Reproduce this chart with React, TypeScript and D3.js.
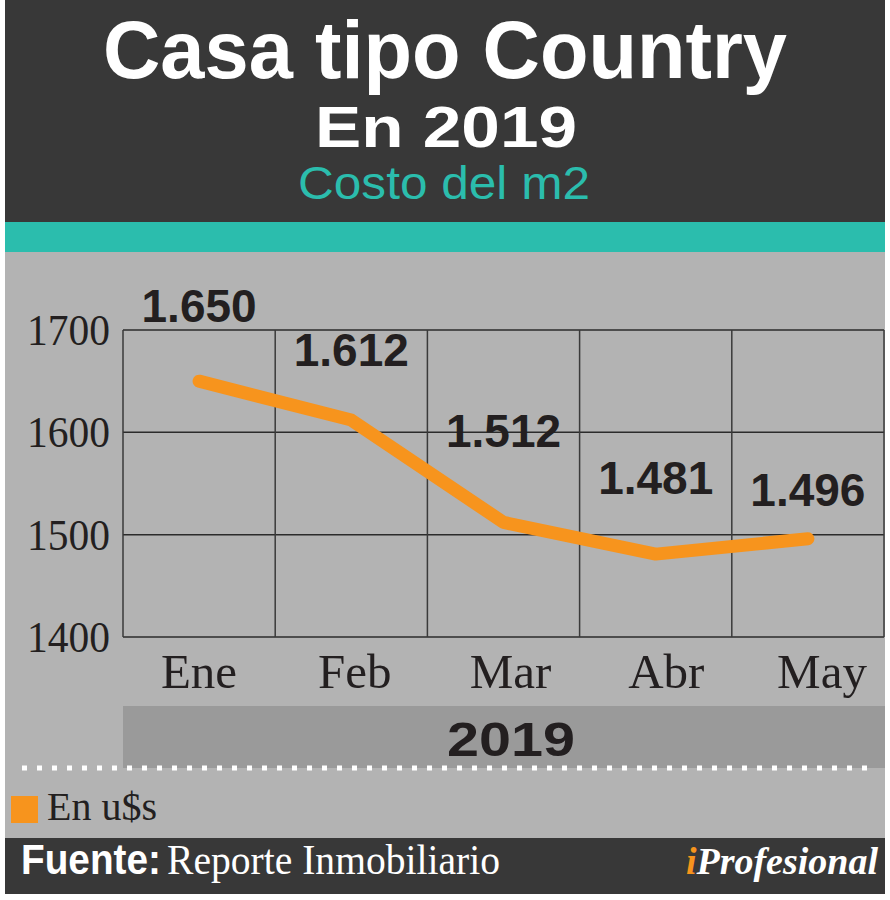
import React, { useEffect, useRef } from 'react';
import * as d3 from 'd3';

const months = ['Ene', 'Feb', 'Mar', 'Abr', 'May'];
const costs = [1650, 1612, 1512, 1481, 1496];
const costLabels = ['1.650', '1.612', '1.512', '1.481', '1.496'];
const yTicks = [1400, 1500, 1600, 1700];

// how far above each point its label sits (matches the original layout)
const labelLift = [59, 54, 75, 60, 33];

const W = 890;
const H = 900;

export default function App() {
  const svgRef = useRef<SVGSVGElement>(null);

  useEffect(() => {
    if (!svgRef.current) return;
    const svg = d3.select(svgRef.current);
    svg.selectAll('*').remove();

    const left = 123, right = 884, top = 330, bottom = 637;
    const sans = "'Liberation Sans', Arial, sans-serif";
    const serif = "'Liberation Serif', 'Times New Roman', serif";

    const x = d3.scaleBand<string>().domain(months).range([left, right]).padding(0);
    const y = d3.scaleLinear().domain([1400, 1700]).range([bottom, top]);
    // month names in the original drift a little right of the band centres
    const xLabel = d3.scalePoint<string>().domain(months).range([199, 822]);

    // panels
    svg.append('rect').attr('x', 0).attr('y', 0).attr('width', W).attr('height', H).attr('fill', '#fff');
    svg.append('rect').attr('x', 5).attr('y', 0).attr('width', 880).attr('height', 222).attr('fill', '#383838');
    svg.append('rect').attr('x', 5).attr('y', 222).attr('width', 880).attr('height', 30).attr('fill', '#2bbdad');
    svg.append('rect').attr('x', 5).attr('y', 252).attr('width', 880).attr('height', 586).attr('fill', '#b3b3b3');
    svg.append('rect').attr('x', 5).attr('y', 838).attr('width', 880).attr('height', 56).attr('fill', '#383838');

    // titles (the original type is a little wider than Arial, hence textLength)
    svg.append('text').attr('x', 445).attr('y', 78).attr('text-anchor', 'middle')
      .attr('font-family', sans).attr('font-weight', 'bold').attr('font-size', 81)
      .attr('textLength', 684).attr('lengthAdjust', 'spacingAndGlyphs')
      .attr('fill', '#fff').text('Casa tipo Country');
    svg.append('text').attr('x', 446).attr('y', 147).attr('text-anchor', 'middle')
      .attr('font-family', sans).attr('font-weight', 'bold').attr('font-size', 57)
      .attr('textLength', 262).attr('lengthAdjust', 'spacingAndGlyphs')
      .attr('fill', '#fff').text('En 2019');
    svg.append('text').attr('x', 444).attr('y', 199).attr('text-anchor', 'middle')
      .attr('font-family', sans).attr('font-size', 46)
      .attr('textLength', 292).attr('lengthAdjust', 'spacingAndGlyphs')
      .attr('fill', '#2bbdad').text('Costo del m2');

    // grid
    const g = svg.append('g');
    g.selectAll('line.h').data(yTicks).join('line')
      .attr('x1', left).attr('x2', right)
      .attr('y1', d => y(d)).attr('y2', d => y(d))
      .attr('stroke', '#2b2b2b').attr('stroke-width', 1.5);
    const edges = months.map(m => x(m)!).concat([right]);
    g.selectAll('line.v').data(edges).join('line')
      .attr('x1', d => d).attr('x2', d => d)
      .attr('y1', top).attr('y2', bottom)
      .attr('stroke', '#3a3a3a').attr('stroke-width', 1.5);

    // y tick labels
    svg.selectAll('text.yt').data(yTicks).join('text')
      .attr('x', 110).attr('y', d => y(d) + 15).attr('text-anchor', 'end')
      .attr('font-family', serif).attr('font-size', 44).attr('fill', '#231f20')
      .attr('textLength', 83).attr('lengthAdjust', 'spacingAndGlyphs')
      .text(d => d);

    // month labels
    svg.selectAll('text.xt').data(months).join('text')
      .attr('x', d => xLabel(d)!).attr('y', 688).attr('text-anchor', 'middle')
      .attr('font-family', serif).attr('font-size', 49).attr('fill', '#231f20')
      .text(d => d);

    // year band
    svg.append('rect').attr('x', left).attr('y', 706).attr('width', 885 - left).attr('height', 62).attr('fill', '#9a9a9a');
    svg.append('text').attr('x', 511).attr('y', 756).attr('text-anchor', 'middle')
      .attr('font-family', sans).attr('font-weight', 'bold').attr('font-size', 49)
      .attr('textLength', 128).attr('lengthAdjust', 'spacingAndGlyphs')
      .attr('fill', '#231f20').text('2019');

    // dotted separator
    svg.append('line').attr('x1', 22).attr('x2', 868).attr('y1', 768).attr('y2', 768)
      .attr('stroke', '#fff').attr('stroke-width', 5).attr('stroke-dasharray', '5 10');

    // line
    const line = d3.line<number>()
      .x((_, i) => x(months[i])! + x.bandwidth() / 2)
      .y(d => y(d));
    svg.append('path').datum(costs)
      .attr('fill', 'none').attr('stroke', '#f7941d').attr('stroke-width', 13)
      .attr('stroke-linecap', 'round').attr('stroke-linejoin', 'round')
      .attr('d', line);

    // value labels
    svg.selectAll('text.val').data(costs).join('text')
      .attr('x', (_, i) => x(months[i])! + x.bandwidth() / 2)
      .attr('y', (d, i) => y(d) - labelLift[i])
      .attr('text-anchor', 'middle')
      .attr('font-family', sans).attr('font-weight', 'bold').attr('font-size', 46)
      .attr('fill', '#231f20')
      .text((_, i) => costLabels[i]);

    // legend
    svg.append('rect').attr('x', 11).attr('y', 796).attr('width', 27).attr('height', 27).attr('fill', '#f7941d');
    svg.append('text').attr('x', 47).attr('y', 820)
      .attr('font-family', serif).attr('font-size', 41).attr('fill', '#231f20')
      .attr('textLength', 110).attr('lengthAdjust', 'spacingAndGlyphs')
      .text('En u$s');

    // footer
    svg.append('text').attr('x', 21).attr('y', 874)
      .attr('font-family', sans).attr('font-weight', 'bold').attr('font-size', 42)
      .attr('textLength', 140).attr('lengthAdjust', 'spacingAndGlyphs')
      .attr('fill', '#fff').text('Fuente:');
    svg.append('text').attr('x', 167).attr('y', 874)
      .attr('font-family', serif).attr('font-size', 43)
      .attr('textLength', 333).attr('lengthAdjust', 'spacingAndGlyphs')
      .attr('fill', '#fff').text('Reporte Inmobiliario');
    const brand = svg.append('text').attr('x', 878).attr('y', 874).attr('text-anchor', 'end')
      .attr('font-family', serif).attr('font-style', 'italic').attr('font-weight', 'bold')
      .attr('font-size', 38);
    brand.append('tspan').attr('fill', '#f7941d').text('i');
    brand.append('tspan').attr('fill', '#fff').text('Profesional');
  }, []);

  return (
    <svg
      ref={svgRef}
      width={W}
      height={H}
      style={{ position: 'absolute', left: 0, top: 0, display: 'block' }}
    />
  );
}
